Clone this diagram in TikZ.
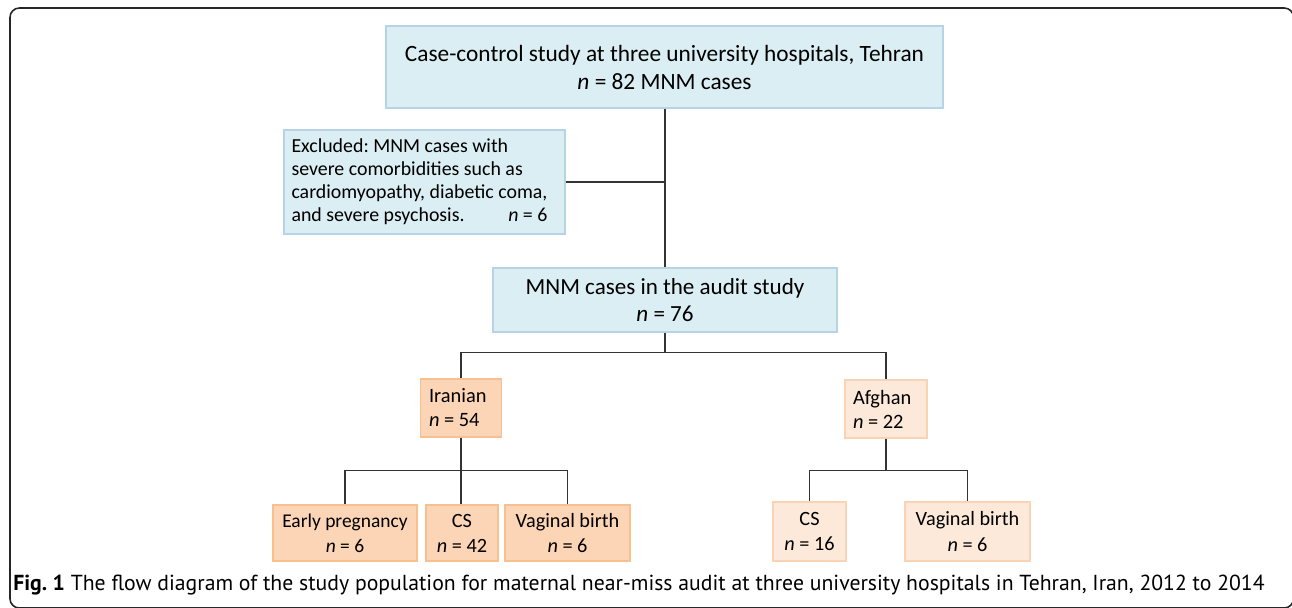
\documentclass[tikz,border=0pt]{standalone}
\usepackage{fontspec}
\setmainfont{Carlito}
\newfontfamily\capfont{PT Sans}
\usepackage{tikz}
\usetikzlibrary{positioning,calc}
\frenchspacing

\definecolor{blueFill}{HTML}{DAEEF3}
\definecolor{blueLine}{HTML}{B7D3E6}
\definecolor{orangeFill}{HTML}{FBD5B5}
\definecolor{orangeLine}{HTML}{F8BF8F}
\definecolor{peachFill}{HTML}{FDE9D9}
\definecolor{peachLine}{HTML}{F9D3B3}

\begin{document}
\begin{tikzpicture}[x=0.75pt,y=-0.75pt,
  bluebox/.style={rectangle,fill=blueFill,draw=blueLine,line width=0.8pt,align=center,inner sep=0pt},
  orbox/.style={rectangle,fill=orangeFill,draw=orangeLine,line width=0.8pt,inner sep=0pt},
  pebox/.style={rectangle,fill=peachFill,draw=peachLine,line width=0.8pt,inner sep=0pt},
  link/.style={draw=black!80,line width=1pt}]
\useasboundingbox (0,0) rectangle (1292,607);
\draw[black!85,line width=1.2pt,rounded corners=7pt] (10,8) rectangle (1293.5,608);

% study population
\node[bluebox,minimum width=557*0.75pt,minimum height=82*0.75pt,font=\fontsize{17.5}{21}\selectfont] (study) at (664.5,67) {Case-control study at three university hospitals, Tehran\\ \textit{n} = 82 MNM cases};
\node[bluebox,minimum width=281*0.75pt,minimum height=104*0.75pt,align=flush left,text width=266*0.75pt,font=\fontsize{14.9}{17.3}\selectfont] (excl) at (424.5,182) {Excluded: MNM cases with\\ severe comorbidities such as\\ cardiomyopathy, diabetic coma,\\ and severe psychosis.\hspace{2.2em}\textit{n} = 6};
\node[bluebox,minimum width=344*0.75pt,minimum height=64*0.75pt,font=\fontsize{17.3}{20.3}\selectfont] (audit) at (665,300) {MNM cases in the audit study\\ \textit{n} = 76};

% nationality
\node[orbox,minimum width=81*0.75pt,minimum height=58*0.75pt,align=flush left,text width=64*0.75pt,font=\fontsize{15.3}{18}\selectfont] (iran) at (461,408) {Iranian\\ \textit{n} = 54};
\node[pebox,minimum width=82*0.75pt,minimum height=58*0.75pt,align=flush left,text width=66*0.75pt,font=\fontsize{15.3}{18}\selectfont] (afgh) at (886,409) {Afghan\\ \textit{n} = 22};

% outcomes
\node[orbox,minimum width=144*0.75pt,minimum height=56*0.75pt,align=center,font=\fontsize{14.6}{18.8}\selectfont] (iEarly) at (345,533) {Early pregnancy\\ \textit{n} = 6};
\node[orbox,minimum width=72*0.75pt,minimum height=56*0.75pt,align=center,font=\fontsize{15.2}{18.8}\selectfont] (iCS) at (462,533) {CS\\ \textit{n} = 42};
\node[orbox,minimum width=125*0.75pt,minimum height=56*0.75pt,align=center,font=\fontsize{15.2}{18.8}\selectfont] (iVag) at (567.5,533) {Vaginal birth\\ \textit{n} = 6};
\node[pebox,minimum width=73*0.75pt,minimum height=59*0.75pt,align=center,font=\fontsize{15.2}{18.8}\selectfont] (aCS) at (809.5,531.5) {CS\\ \textit{n} = 16};
\node[pebox,minimum width=125*0.75pt,minimum height=59*0.75pt,align=center,font=\fontsize{15.2}{18.8}\selectfont] (aVag) at (967.5,531.5) {Vaginal birth\\ \textit{n} = 6};

% connectors
\draw[link] (study.south -| audit.north) -- (audit.north);
\draw[link] (excl.east) -- (excl.east -| audit.north);
\coordinate (split) at ($(audit.south)+(0,20)$);
\draw[link] (audit.south) -- (split);
\draw[link] (split) -| (iran.north);
\draw[link] (split) -| (afgh.north);
\coordinate (iSplit) at ($(iran.south)+(0,33)$);
\draw[link] (iran.south) -- (iSplit);
\draw[link] (iSplit) -| (iEarly.north);
\draw[link] (iSplit) -| (iVag.north);
\draw[link] (iSplit) -- (iCS.north -| iSplit);
\coordinate (aSplit) at ($(afgh.south)+(0,32)$);
\draw[link] (afgh.south) -- (aSplit);
\draw[link] (aSplit) -| (aCS.north);
\draw[link] (aSplit) -| (aVag.north);

% caption
\node[anchor=west,inner sep=0pt,font=\capfont\fontsize{16.3}{18}\selectfont] (cap) at (13,585) {\textbf{Fig. 1} The flow diagram of the study population for maternal near-miss audit at three university hospitals in Tehran, Iran, 2012 to 2014};
\end{tikzpicture}
\end{document}
